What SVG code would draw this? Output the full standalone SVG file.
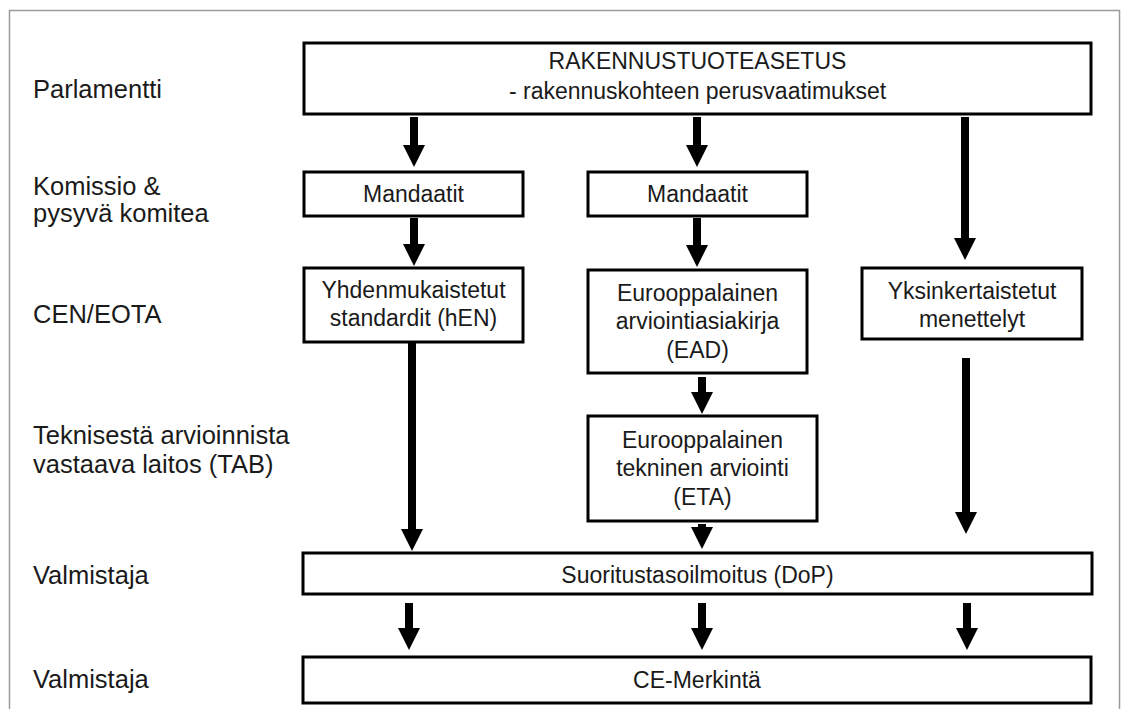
<svg xmlns="http://www.w3.org/2000/svg" width="1121" height="709" viewBox="0 0 1121 709">
<style>
.lbl{font-family:"Liberation Sans",Arial,sans-serif;font-size:25.5px;fill:#1a1a1a}
.bt{font-family:"Liberation Sans",Arial,sans-serif;font-size:23px;fill:#1a1a1a;text-anchor:middle}
.box{fill:#fff;stroke:#000;stroke-width:3}
.ar{stroke:#000;stroke-width:8;fill:none}
</style>
<defs>
<marker id="ah" markerUnits="userSpaceOnUse" markerWidth="22" markerHeight="22" refX="1" refY="11" orient="auto" viewBox="0 0 22 22">
<path d="M0,0 L22,11 L0,22 z" fill="#000"/>
</marker>
</defs>
<rect width="1121" height="709" fill="#fff"/>
<rect x="9.5" y="10.5" width="1110" height="720" fill="none" stroke="#9a9a9a" stroke-width="1.5"/>

<g id="labels">
<text class="lbl" x="33" y="98">Parlamentti</text>
<text class="lbl" x="33" y="195">Komissio &amp;</text>
<text class="lbl" x="33" y="222">pysyvä komitea</text>
<text class="lbl" x="33" y="323">CEN/EOTA</text>
<text class="lbl" x="33" y="444">Teknisestä arvioinnista</text>
<text class="lbl" x="33" y="473">vastaava laitos (TAB)</text>
<text class="lbl" x="33" y="584">Valmistaja</text>
<text class="lbl" x="33" y="688">Valmistaja</text>
</g>

<g id="n-rakennus">
<rect class="box" x="304" y="43" width="787" height="71"/>
<text class="bt" x="697.5" y="69">RAKENNUSTUOTEASETUS</text>
<text class="bt" x="697.5" y="99">- rakennuskohteen perusvaatimukset</text>
</g>
<g id="n-mandaatit1">
<rect class="box" x="304" y="172" width="219" height="44"/>
<text class="bt" x="413.5" y="202">Mandaatit</text>
</g>
<g id="n-mandaatit2">
<rect class="box" x="588" y="172" width="219" height="44"/>
<text class="bt" x="697.5" y="202">Mandaatit</text>
</g>
<g id="n-hen">
<rect class="box" x="304" y="268" width="219" height="74"/>
<text class="bt" x="413.5" y="298">Yhdenmukaistetut</text>
<text class="bt" x="413.5" y="326">standardit (hEN)</text>
</g>
<g id="n-ead">
<rect class="box" x="588" y="270" width="219" height="103"/>
<text class="bt" x="697.5" y="301">Eurooppalainen</text>
<text class="bt" x="697.5" y="329">arviointiasiakirja</text>
<text class="bt" x="697.5" y="358">(EAD)</text>
</g>
<g id="n-yks">
<rect class="box" x="862" y="268" width="220" height="71"/>
<text class="bt" x="972" y="299">Yksinkertaistetut</text>
<text class="bt" x="972" y="327">menettelyt</text>
</g>
<g id="n-eta">
<rect class="box" x="588" y="416" width="229" height="105"/>
<text class="bt" x="702.5" y="448">Eurooppalainen</text>
<text class="bt" x="702.5" y="476">tekninen arviointi</text>
<text class="bt" x="702.5" y="505">(ETA)</text>
</g>
<g id="n-dop">
<rect class="box" x="303" y="553" width="789" height="41"/>
<text class="bt" x="697.5" y="583">Suoritustasoilmoitus (DoP)</text>
</g>
<g id="n-ce">
<rect class="box" x="303" y="657" width="788" height="46"/>
<text class="bt" x="697" y="688">CE-Merkintä</text>
</g>

<g id="connectors">
<line class="ar" x1="414" y1="117" x2="414" y2="146" marker-end="url(#ah)"/>
<line class="ar" x1="697" y1="117" x2="697" y2="146" marker-end="url(#ah)"/>
<line class="ar" x1="965" y1="117" x2="965" y2="239" marker-end="url(#ah)"/>
<line class="ar" x1="414" y1="218" x2="414" y2="245" marker-end="url(#ah)"/>
<line class="ar" x1="697" y1="218" x2="697" y2="246" marker-end="url(#ah)"/>
<line class="ar" x1="412" y1="343" x2="412" y2="530" marker-end="url(#ah)"/>
<line class="ar" x1="702" y1="377" x2="702" y2="393" marker-end="url(#ah)"/>
<line class="ar" x1="966" y1="358" x2="966" y2="513" marker-end="url(#ah)"/>
<line class="ar" x1="702" y1="524" x2="702" y2="528" marker-end="url(#ah)"/>
<line class="ar" x1="409" y1="603" x2="409" y2="629" marker-end="url(#ah)"/>
<line class="ar" x1="702" y1="603" x2="702" y2="629" marker-end="url(#ah)"/>
<line class="ar" x1="967" y1="603" x2="967" y2="629" marker-end="url(#ah)"/>
</g>
</svg>
